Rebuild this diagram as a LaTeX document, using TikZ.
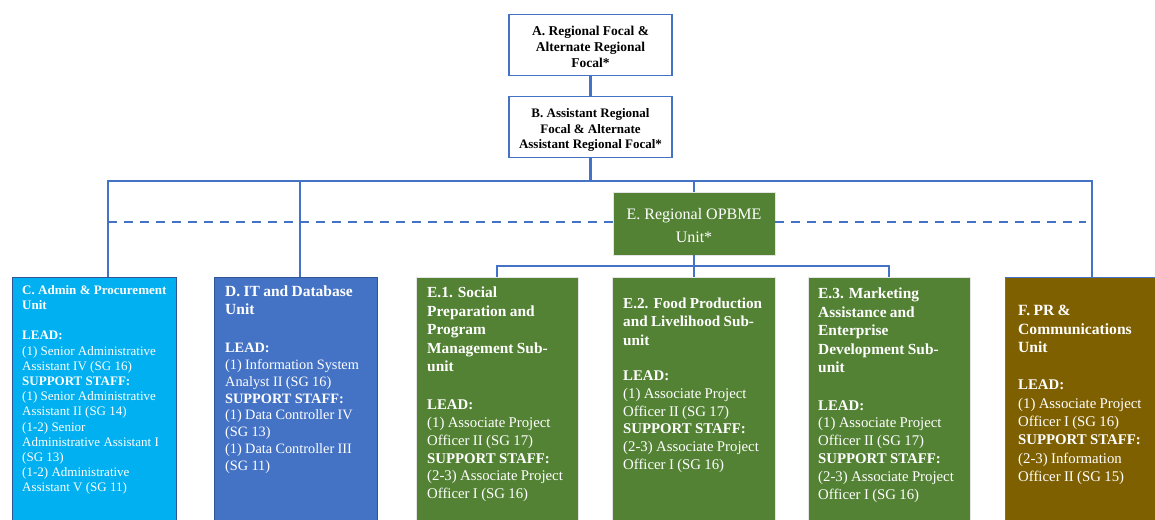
\documentclass[tikz,border=0pt]{standalone}
\usepackage{fontspec}
\setmainfont{Liberation Serif}
\definecolor{lnblue}{HTML}{4472C4}
\definecolor{cfill}{HTML}{00B0F0}
\definecolor{dfill}{HTML}{4472C4}
\definecolor{efill}{HTML}{548235}
\definecolor{ffill}{HTML}{7F6000}
\definecolor{bdark}{HTML}{2F5597}
\begin{document}
\begin{tikzpicture}[x=1pt,y=-1pt,
  ln/.style={draw=lnblue,line width=2.3pt},
  dln/.style={draw=lnblue,line width=2.3pt,dash pattern=on 9pt off 7pt},
  topbox/.style={draw=lnblue,line width=1.6pt,fill=white,minimum width=163pt,minimum height=61pt,inner sep=0pt},
  ctxt/.style={inner sep=0pt,align=center},
  unitbox/.style={draw=bdark,line width=0.8pt,minimum width=163pt,minimum height=260pt,inner sep=0pt,anchor=north west},
  gbox/.style={unitbox,draw=white!80!gray,fill=efill},
  txt/.style={text=white,inner sep=0pt,anchor=north west,align=left}
]
\useasboundingbox (0,0) rectangle (1155,519);
\clip (0,0) rectangle (1155,519);

% top boxes
\node[topbox] (A) at (590.5,45) {};
\node[topbox] (B) at (590.5,127) {};
\node[ctxt,font=\bfseries\fontsize{13.5}{16}\selectfont] (At) at (590.5,47) {A. Regional Focal \&\\ Alternate Regional\\ Focal*};
\node[ctxt,font=\bfseries\fontsize{13}{15.5}\selectfont] (Bt) at (590.5,130) {B. Assistant Regional\\ Focal \& Alternate\\ Assistant Regional Focal*};

% unit boxes
\node[unitbox,fill=cfill,minimum width=164pt] (C) at (12,277) {};
\node[unitbox,fill=dfill] (D) at (214,277) {};
\node[gbox,minimum width=162pt] (E1) at (416,277) {};
\node[gbox] (E2) at (612,277) {};
\node[gbox,minimum width=162pt] (E3) at (808,277) {};
\node[unitbox,fill=ffill,draw=lnblue] (F) at (1005,277) {};
\node[draw=white!80!gray,line width=0.8pt,fill=efill,minimum width=162pt,minimum height=63pt,inner sep=0pt] (E) at (694,223.5) {};
\node[ctxt,text=white,font=\fontsize{16}{23}\selectfont] (Et) at (694,226) {E. Regional OPBME\\ Unit*};

% connectors
\coordinate (busL) at (108,181);
\coordinate (busD) at (300,181);
\coordinate (busE) at (694,181);
\coordinate (busR) at (1092,181);
\coordinate (dashL) at (108,222);
\coordinate (dashR) at (1086,222);
\coordinate (subL) at (497,266);
\coordinate (subM) at (694,266);
\coordinate (subR) at (889,266);

\draw[ln] (A.south) -- (B.north);
\draw[ln] (B.south) -- (B.south |- busL);
\draw[ln] (busL |- C.north) -- (busL) -- (busR) -- (busR |- F.north);
\draw[ln] (busD) -- (busD |- D.north);
\draw[ln] (busE) -- (E.north);
\draw[dln] (dashL) -- (dashL -| E.west);
\draw[dln] (dashL -| E.east) -- (dashR);
\draw[ln] (E.south) -- (subM);
\draw[ln] (subL |- E1.north) -- (subL) -- (subR) -- (subR |- E3.north);
\draw[ln] (subM) -- (subM |- E2.north);

% texts
\node[txt,text width=152pt] (Ct) at (22,285) {\fontsize{13}{15.2}\selectfont
\textbf{C. Admin \& Procurement}\\ \textbf{Unit}\\[15.2pt]
\textbf{LEAD:}\\ (1) Senior Administrative\\ Assistant IV (SG 16)\\
\textbf{SUPPORT STAFF:}\\ (1) Senior Administrative\\ Assistant II (SG 14)\\
(1-2) Senior\\ Administrative Assistant I\\ (SG 13)\\ (1-2) Administrative\\ Assistant V (SG 11)\par};

\node[txt,text width=150pt] (Dt) at (225,286) {{\bfseries\fontsize{15.5}{18}\selectfont D. IT and Database\\ Unit\par}\vspace{21pt}
{\fontsize{14.3}{16.8}\selectfont \textbf{LEAD:}\\ (1) Information System\\ Analyst II (SG 16)\\
\textbf{SUPPORT STAFF:}\\ (1) Data Controller IV\\ (SG 13)\\ (1) Data Controller III\\ (SG 11)\par}};

\node[txt,text width=150pt] (E1t) at (427,287) {{\bfseries\fontsize{15.4}{18.5}\selectfont E.1. Social\\ Preparation and\\ Program\\ Management Sub-\\ unit\par}\vspace{20pt}
{\fontsize{14.8}{17.8}\selectfont \textbf{LEAD:}\\ (1) Associate Project\\ Officer II (SG 17)\\
\textbf{SUPPORT STAFF:}\\ (2-3) Associate Project\\ Officer I (SG 16)\par}};

\node[txt,text width=150pt] (E2t) at (623,298) {{\bfseries\fontsize{15.2}{18.2}\selectfont E.2. Food Production\\ and Livelihood Sub-\\ unit\par}\vspace{17.5pt}
{\fontsize{14.8}{17.8}\selectfont \textbf{LEAD:}\\ (1) Associate Project\\ Officer II (SG 17)\\
\textbf{SUPPORT STAFF:}\\ (2-3) Associate Project\\ Officer I (SG 16)\par}};

\node[txt,text width=150pt] (E3t) at (818,288) {{\bfseries\fontsize{15.4}{18.5}\selectfont E.3. Marketing\\ Assistance and\\ Enterprise\\ Development Sub-\\ unit\par}\vspace{19.5pt}
{\fontsize{14.8}{17.8}\selectfont \textbf{LEAD:}\\ (1) Associate Project\\ Officer II (SG 17)\\
\textbf{SUPPORT STAFF:}\\ (2-3) Associate Project\\ Officer I (SG 16)\par}};

\node[txt,text width=135pt] (Ft) at (1018,305) {{\bfseries\fontsize{15.6}{18.5}\selectfont F. PR \&\\ Communications\\ Unit\par}\vspace{19pt}
{\fontsize{14.8}{18.3}\selectfont \textbf{LEAD:}\\ (1) Associate Project\\ Officer I (SG 16)\\
\textbf{SUPPORT STAFF:}\\ (2-3) Information\\ Officer II (SG 15)\par}};
\end{tikzpicture}
\end{document}
